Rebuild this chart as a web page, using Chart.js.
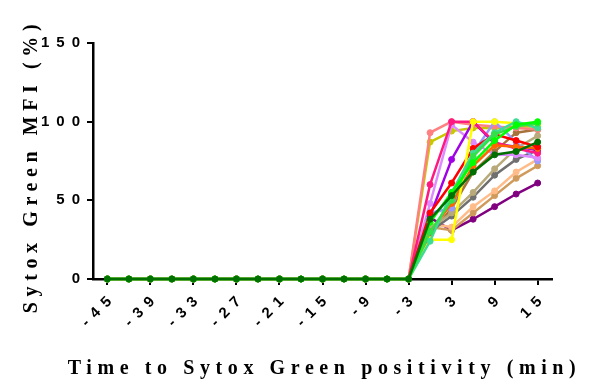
<!DOCTYPE html>
<html>
<head>
<meta charset="utf-8">
<script src="https://cdn.jsdelivr.net/npm/chart.js@4/dist/chart.umd.min.js"></script>
<style>
  html, body { margin: 0; padding: 0; background: #ffffff; }
  #wrap { width: 594px; height: 384px; position: relative; }
</style>
</head>
<body>
<div id="wrap"><canvas id="c"></canvas></div>
<script>
// ---- data (minutes relative to Sytox Green positivity) ----
const xValues = [-45,-42,-39,-36,-33,-30,-27,-24,-21,-18,-15,-12,-9,-6,-3,0,3,6,9,12,15];
const xTickLabels = ['-45','-39','-33','-27','-21','-15','-9','-3','3','9','15'];
const yTickValues = [0, 50, 100, 150];
const xTitle = 'Time to Sytox Green positivity (min)';
const yTitle = 'Sytox Green MFI (%)';

const cellLime       = [0,0,0,0,0,0,0,0,0,0,0,0,0,0,0, 36,55,74,88,98,100];
const cellDarkGreen  = [0,0,0,0,0,0,0,0,0,0,0,0,0,0,0, 38,53,68,79,81,87];
const cellTurquoise  = [0,0,0,0,0,0,0,0,0,0,0,0,0,0,0, 24,55,80,93,100,96];
const cellGreen      = [0,0,0,0,0,0,0,0,0,0,0,0,0,0,0, 30,50,78,92,97,99];
const cellYellow     = [0,0,0,0,0,0,0,0,0,0,0,0,0,0,0, 25,25,100,100,99,98];
const cellOlive      = [0,0,0,0,0,0,0,0,0,0,0,0,0,0,0, 87,94,96,96,97,97];
const cellSalmon     = [0,0,0,0,0,0,0,0,0,0,0,0,0,0,0, 93,100,98,97,96,95];
const cellDeepPink   = [0,0,0,0,0,0,0,0,0,0,0,0,0,0,0, 60,100,100,87,83,80];
const cellPurple     = [0,0,0,0,0,0,0,0,0,0,0,0,0,0,0, 40,76,100,86,84,82];
const cellLilac      = [0,0,0,0,0,0,0,0,0,0,0,0,0,0,0, 48,98,87,79,79,77];
const cellRed        = [0,0,0,0,0,0,0,0,0,0,0,0,0,0,0, 42,61,83,92,88,84];
const cellOrange     = [0,0,0,0,0,0,0,0,0,0,0,0,0,0,0, 30,48,72,85,84,83];
const cellPeriwinkle = [0,0,0,0,0,0,0,0,0,0,0,0,0,0,0, 42,45,80,100,87,75];
const cellKhaki      = [0,0,0,0,0,0,0,0,0,0,0,0,0,0,0, 32,42,55,70,83,91];
const cellGray       = [0,0,0,0,0,0,0,0,0,0,0,0,0,0,0, 30,40,52,66,76,82];
const cellBrown      = [0,0,0,0,0,0,0,0,0,0,0,0,0,0,0, 28,45,68,81,93,95];
const cellPeach      = [0,0,0,0,0,0,0,0,0,0,0,0,0,0,0, 35,33,46,56,68,76];
const cellTan        = [0,0,0,0,0,0,0,0,0,0,0,0,0,0,0, 33,31,42,53,64,72];
const cellPlum       = [0,0,0,0,0,0,0,0,0,0,0,0,0,0,0, 39,31,38,46,54,61];

const seriesList = [
  cellDarkGreen, cellLime, cellGreen, cellTurquoise, cellYellow, cellRed, cellOrange,
  cellDeepPink, cellPurple, cellLilac, cellPeriwinkle, cellSalmon, cellOlive,
  cellKhaki, cellGray, cellBrown, cellPeach, cellTan, cellPlum
];
const seriesColors = [
  '#007000', '#00ff00', '#33e04a', '#3cdc96', '#ffff00', '#ff0000', '#ff6600',
  '#ff1a80', '#a000e6', '#dc8cff', '#9999ff', '#ff8080', '#c8c800',
  '#b8aa7a', '#707070', '#a8733a', '#ffbb88', '#d09a5c', '#800080'
];

const datasets = seriesList.map((vals, i) => ({
  data: xValues.map((x, j) => ({ x: x, y: vals[j] })),
  borderColor: seriesColors[i],
  backgroundColor: seriesColors[i],
  pointBackgroundColor: seriesColors[i],
  pointBorderColor: seriesColors[i],
  borderWidth: 2.5,
  pointRadius: 3,
  pointBorderWidth: 1,
  tension: 0,
  clip: false
}));

const TICK_SPACING = '7px';
const spacingPlugin = {
  id: 'spacing',
  beforeUpdate(chart) { chart.ctx.letterSpacing = TICK_SPACING; },
  beforeLayout(chart) { chart.ctx.letterSpacing = TICK_SPACING; },
  beforeDraw(chart) { chart.ctx.letterSpacing = TICK_SPACING; }
};

// axis titles (letter-spaced, as in the original figure)
const axisTitlePlugin = {
  id: 'axisTitles',
  afterDraw(chart) {
    const ctx = chart.ctx;
    const area = chart.chartArea;
    ctx.save();
    ctx.fillStyle = '#000';
    ctx.font = 'bold 20px "Liberation Serif", "Times New Roman", serif';
    ctx.letterSpacing = '5.6px';
    ctx.textAlign = 'center';
    ctx.textBaseline = 'alphabetic';
    ctx.fillText(xTitle, (area.left + area.right) / 2 + 2, 374);
    ctx.translate(37, 169);
    ctx.rotate(-Math.PI / 2);
    ctx.fillText(yTitle, 3, 0);
    ctx.restore();
  }
};

const labelSet = new Set(xTickLabels.map(Number));

new Chart(document.getElementById('c'), {
  type: 'line',
  data: { datasets: datasets },
  plugins: [spacingPlugin, axisTitlePlugin],
  options: {
    responsive: true,
    maintainAspectRatio: false,
    animation: false,
    devicePixelRatio: 1,
    layout: { padding: { top: 43, right: 42, bottom: 4, left: 2 } },
    plugins: { legend: { display: false }, tooltip: { enabled: false } },
    scales: {
      x: {
        type: 'linear',
        min: -47, max: 17,
        afterBuildTicks(scale) { scale.ticks = xValues.map(v => ({ value: v })); },
        afterFit(scale) { scale.height = 384 - 279 - 4; },
        border: { display: true, color: '#000', width: 2.5 },
        grid: {
          drawOnChartArea: false, drawTicks: true, tickLength: 6, lineWidth: 2,
          tickColor: (ctx) => (ctx.tick && labelSet.has(ctx.tick.value)) ? '#000' : 'rgba(0,0,0,0)'
        },
        ticks: {
          autoSkip: false, minRotation: 45, maxRotation: 45, padding: 3, labelOffset: 7,
          color: '#000',
          font: { family: 'Liberation Sans, Arial, sans-serif', size: 15, weight: 'bold' },
          callback: (v) => labelSet.has(v) ? String(v) : ''
        },
        title: { display: false }
      },
      y: {
        min: 0, max: 150,
        afterBuildTicks(scale) { scale.ticks = yTickValues.map(v => ({ value: v })); },
        afterFit(scale) { scale.width = 93 - 2; },
        border: { display: true, color: '#000', width: 2.5 },
        grid: { drawOnChartArea: false, drawTicks: true, tickLength: 6, lineWidth: 2, tickColor: '#000' },
        ticks: {
          padding: 0, color: '#000',
          font: { family: 'Liberation Sans, Arial, sans-serif', size: 15, weight: 'bold' }
        },
        title: { display: false }
      }
    }
  }
});
</script>
</body>
</html>
